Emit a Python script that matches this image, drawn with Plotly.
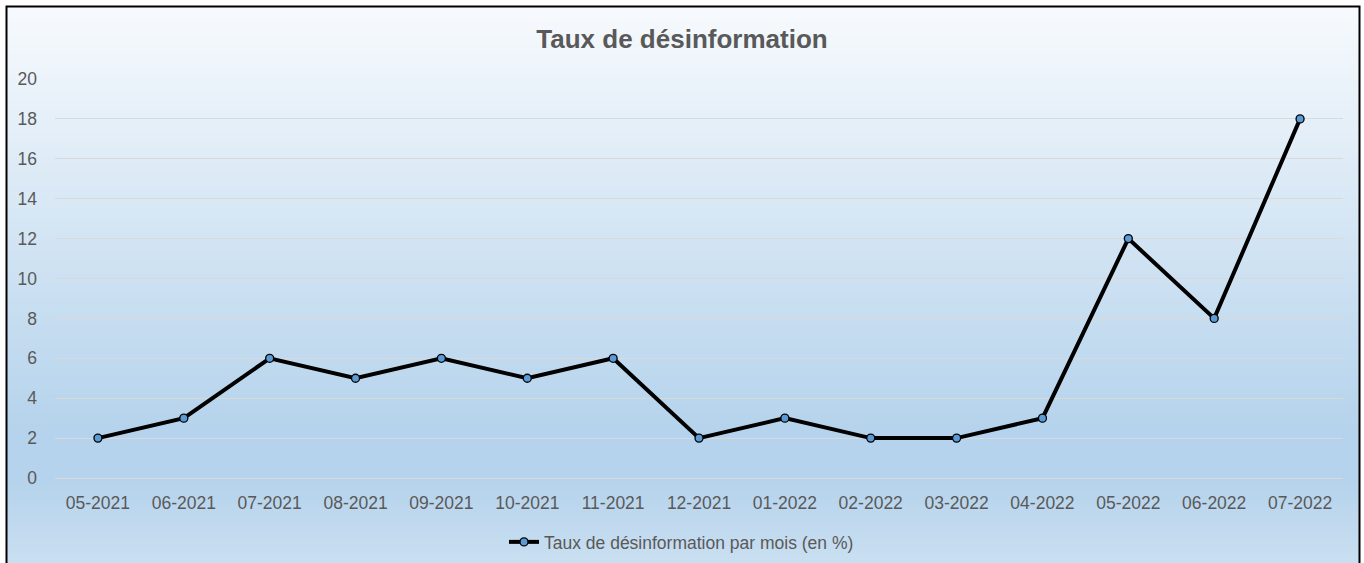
import plotly.graph_objects as go

# ---- data ----
months = ["05-2021", "06-2021", "07-2021", "08-2021", "09-2021", "10-2021", "11-2021",
          "12-2021", "01-2022", "02-2022", "03-2022", "04-2022", "05-2022", "06-2022", "07-2022"]
taux = [2, 3, 6, 5, 6, 5, 6, 2, 3, 2, 2, 3, 12, 8, 18]
series_name = "Taux de désinformation par mois (en %)"
title_text = "Taux de désinformation"
y_ticks = [0, 2, 4, 6, 8, 10, 12, 14, 16, 18, 20]

# ---- layout geometry (pixels) ----
W, H = 1364, 563
ML, MR, MT, MB = 55, 21, 79, 85
PW, PH = W - ML - MR, H - MT - MB


def xp(px):
    return (px - ML) / PW


def yp(py):
    return (H - MB - py) / PH


def hex2rgb(h):
    h = h.lstrip("#")
    return tuple(int(h[i:i + 2], 16) for i in (0, 2, 4))


stops = [(0.0, "#f7fafd"), (0.74, "#b5d3ec"), (0.83, "#b5d3ec"), (1.0, "#cee1f2")]


def grad(t):
    for (t0, c0), (t1, c1) in zip(stops[:-1], stops[1:]):
        if t <= t1:
            f = 0 if t1 == t0 else (t - t0) / (t1 - t0)
            a, b = hex2rgb(c0), hex2rgb(c1)
            return "rgb(%d,%d,%d)" % tuple(round(a[i] + (b[i] - a[i]) * f) for i in range(3))
    return stops[-1][1]


chart_top, chart_bot = 6, 579
shapes = []
step = 2
y = chart_top
while y < H:
    t = (y + step / 2 - chart_top) / (chart_bot - chart_top)
    shapes.append(dict(type="rect", xref="paper", yref="paper", layer="below",
                       x0=xp(6), x1=xp(1360), y0=yp(y), y1=yp(min(y + step + 1, H + 2)),
                       fillcolor=grad(t), line=dict(width=0)))
    y += step

# border
shapes.append(dict(type="rect", xref="paper", yref="paper", layer="above",
                   x0=xp(6.5), x1=xp(1359.5), y0=yp(6.5), y1=yp(620),
                   fillcolor="rgba(0,0,0,0)", line=dict(color="black", width=2)))

font_family = "Liberation Sans, Arial, sans-serif"
gray = "#595959"

fig = go.Figure()
fig.add_trace(go.Scatter(
    x=months, y=taux, mode="lines+markers", name=series_name,
    line=dict(color="black", width=4),
    marker=dict(symbol="circle", size=8, color="#5b9bd5", line=dict(color="black", width=1.3)),
))

fig.update_layout(
    width=W, height=H, autosize=False,
    margin=dict(l=ML, r=MR, t=MT, b=MB, pad=0, autoexpand=False),
    paper_bgcolor="white",
    plot_bgcolor="rgba(0,0,0,0)",
    font=dict(family=font_family, color=gray, size=17.5),
    title=dict(text="<b>" + title_text + "</b>", x=0.5, xanchor="center",
               y=1 - 39 / H, yanchor="middle", yref="container",
               font=dict(family=font_family, size=26, color=gray)),
    showlegend=True,
    legend=dict(orientation="h", x=(504) / W, xref="container", xanchor="left",
                y=1 - 542 / H, yref="container", yanchor="middle",
                bgcolor="rgba(0,0,0,0)", font=dict(size=17.5, color=gray)),
    shapes=shapes,
    xaxis=dict(type="category", range=[-0.5, len(months) - 0.5], showgrid=False,
               showline=False, zeroline=False, ticks="", ticklabelstandoff=12,
               tickfont=dict(size=17.5, color=gray)),
    yaxis=dict(range=[0, 20], tickvals=y_ticks, showgrid=True, gridcolor="#d9d9d9",
               gridwidth=1, zeroline=True, zerolinecolor="#d9d9d9", zerolinewidth=1,
               showline=False, ticks="", ticklabelstandoff=17,
               tickfont=dict(size=17.5, color=gray)),
)

fig.write_html("out.html",
               config={"displayModeBar": False, "responsive": False},
               post_script="document.body.style.margin='0';")
